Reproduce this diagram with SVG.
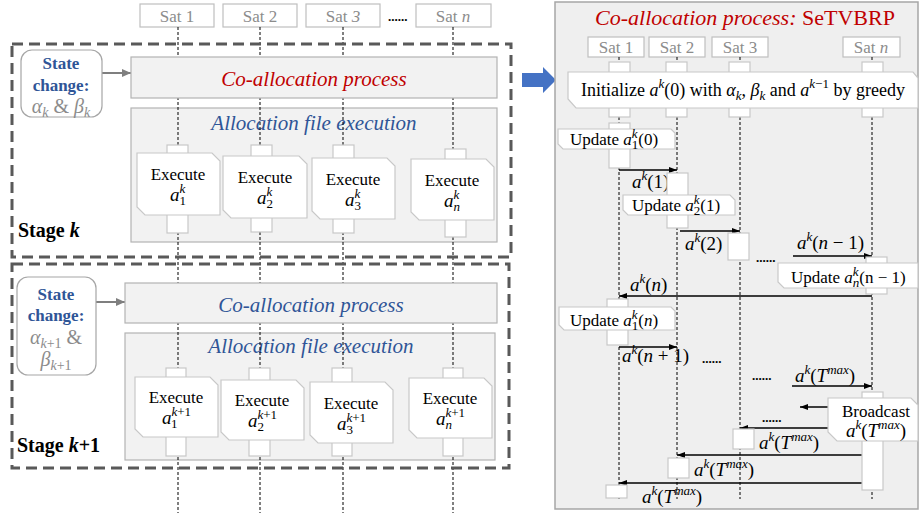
<svg xmlns="http://www.w3.org/2000/svg" width="920" height="520" viewBox="0 0 920 520" font-family="'Liberation Serif', serif">
<style>
text{font-family:"Liberation Serif","Times New Roman",serif;}
.sat{font-size:17px;fill:#8c8c8c;text-anchor:middle;}
.satb{fill:#fff;stroke:#bfbfbf;stroke-width:1.2;}
.life{stroke:#000;stroke-width:1;stroke-dasharray:3,2;fill:none;}
.stage{fill:none;stroke:#595959;stroke-width:3;stroke-dasharray:11,6;}
.proc{fill:#f2f2f2;stroke:#b3b3b3;stroke-width:1.2;}
.panel{fill:#efefef;stroke:#a6a6a6;stroke-width:1.5;}
.wb{fill:#fff;stroke:#c8c8c8;stroke-width:1.2;}
.sc{fill:#fff;stroke:#a6a6a6;stroke-width:1.2;}
.ex{font-size:17px;fill:#000;text-anchor:middle;}
.ea{font-size:19px;fill:#000;}
.it{font-style:italic;}
.red{fill:#c00000;}
.blue{fill:#2f5597;}
.gray{fill:#8c8c8c;}
.msg{stroke:#000;stroke-width:1.5;fill:none;marker-end:url(#ah);}
.garr{stroke:#7f7f7f;stroke-width:2;fill:none;marker-end:url(#gh);}
.t17{font-size:17px;fill:#000;}
.m{font-size:19px;fill:#000;}
.sp{font-size:14px;}
.s13{font-size:13px;}
.gm{font-size:20px;text-anchor:middle;}
.big{font-size:21px;text-anchor:middle;font-style:italic;}
.sc-t{font-size:17px;font-weight:bold;text-anchor:middle;}
.stg{font-size:20px;font-weight:bold;fill:#000;}
.dots{font-size:13px;font-weight:bold;fill:#000;}
</style>
<defs>
<marker id="ah" markerWidth="8" markerHeight="6" refX="8" refY="3" orient="auto" markerUnits="userSpaceOnUse"><path d="M0,0 L8,3 L0,6z" fill="#000"/></marker>
<marker id="gh" markerWidth="9" markerHeight="8" refX="9" refY="4" orient="auto" markerUnits="userSpaceOnUse"><path d="M0,0 L9,4 L0,8z" fill="#7f7f7f"/></marker>
</defs>

<!-- LEFT: headers -->
<g id="left-sat1"><rect class="satb" x="140" y="4" width="74" height="23"/><text class="sat" x="177" y="22">Sat 1</text></g>
<g id="left-sat2"><rect class="satb" x="223" y="4" width="74" height="23"/><text class="sat" x="260" y="22">Sat 2</text></g>
<g id="left-sat3"><rect class="satb" x="306" y="4" width="74" height="23"/><text class="sat" x="343" y="22">Sat <tspan class="it">3</tspan></text></g>
<text class="dots" x="388" y="21">......</text>
<g id="left-satn"><rect class="satb" x="416" y="4" width="75" height="23"/><text class="sat" x="453" y="22">Sat <tspan class="it">n</tspan></text></g>

<!-- allocation boxes (under lifelines) -->
<g id="alloc-k"><rect class="proc" x="131" y="108" width="366" height="134"/><text class="big blue" x="314" y="130">Allocation file execution</text></g>
<g id="alloc-k1"><rect class="proc" x="125" y="333" width="370" height="127"/><text class="big blue" x="311" y="353">Allocation file execution</text></g>

<!-- connectors -->
<g id="connectors">
<line class="life" x1="178" y1="27" x2="178" y2="513"/>
<line class="life" x1="260" y1="27" x2="260" y2="513"/>
<line class="life" x1="343" y1="27" x2="343" y2="513"/>
<line class="life" x1="453" y1="27" x2="453" y2="513"/>
<line class="garr" x1="102" y1="73" x2="131" y2="73"/>
<line class="garr" x1="96" y1="302" x2="125" y2="302"/>
</g>

<!-- Stage k -->
<g id="stage-k">
<rect class="stage" x="12" y="44" width="499" height="213"/>
<text class="stg" x="18" y="237">Stage <tspan class="it">k</tspan></text>
</g>
<g id="state-k">
<rect class="sc" x="21" y="50" width="81" height="67" rx="11"/>
<text class="sc-t blue" x="61" y="69">State</text>
<text class="sc-t blue" x="61" y="91">change:</text>
<text class="gray gm" x="61" y="113"><tspan class="it">α</tspan><tspan class="it sp" dy="4">k</tspan><tspan dy="-4"> &amp; </tspan><tspan class="it">β</tspan><tspan class="it sp" dy="4">k</tspan></text>
</g>
<g id="coalloc-k"><rect class="proc" x="131" y="57" width="366" height="41"/><text class="big red" x="314" y="86">Co-allocation process</text></g>

<g id="exec-k-1"><rect class="wb" x="167" y="145" width="21" height="88"/><polygon class="wb" points="137,153 212,153 220,161 220,215 145,215 137,207"/>
<text class="ex" x="178" y="180">Execute</text><text class="ea" x="170" y="201"><tspan class="it">a</tspan><tspan class="it s13" dy="-8">k</tspan><tspan class="s13" dx="-5.8" dy="12">1</tspan></text></g>
<g id="exec-k-2"><rect class="wb" x="251" y="145" width="21" height="87"/><polygon class="wb" points="223,156 299,156 307,164 307,218 231,218 223,210"/>
<text class="ex" x="265" y="183">Execute</text><text class="ea" x="257" y="204"><tspan class="it">a</tspan><tspan class="it s13" dy="-8">k</tspan><tspan class="s13" dx="-5.8" dy="12">2</tspan></text></g>
<g id="exec-k-3"><rect class="wb" x="333" y="145" width="21" height="88"/><polygon class="wb" points="312,158 387,158 395,166 395,219 320,219 312,211"/>
<text class="ex" x="353" y="185">Execute</text><text class="ea" x="345" y="206"><tspan class="it">a</tspan><tspan class="it s13" dy="-8">k</tspan><tspan class="s13" dx="-5.8" dy="12">3</tspan></text></g>
<g id="exec-k-n"><rect class="wb" x="445" y="149" width="21" height="88"/><polygon class="wb" points="411,159 486,159 494,167 494,220 419,220 411,212"/>
<text class="ex" x="452" y="186">Execute</text><text class="ea" x="444" y="207"><tspan class="it">a</tspan><tspan class="it s13" dy="-8">k</tspan><tspan class="it s13" dx="-5.8" dy="12">n</tspan></text></g>

<!-- Stage k+1 -->
<g id="stage-k1">
<rect class="stage" x="12" y="264" width="497" height="204"/>
<text class="stg" x="17" y="452">Stage <tspan class="it">k</tspan>+1</text>
</g>
<g id="state-k1">
<rect class="sc" x="17" y="277" width="79" height="98" rx="11"/>
<text class="sc-t blue" x="56" y="300">State</text>
<text class="sc-t blue" x="56" y="321">change:</text>
<text class="gray gm" x="56" y="344"><tspan class="it">α</tspan><tspan class="it sp" dy="4">k</tspan><tspan class="sp">+1</tspan><tspan dy="-4"> &amp;</tspan></text>
<text class="gray gm" x="56" y="366"><tspan class="it">β</tspan><tspan class="it sp" dy="4">k</tspan><tspan class="sp">+1</tspan></text>
</g>
<g id="coalloc-k1"><rect class="proc" x="125" y="283" width="372" height="40"/><text class="big blue" x="311" y="312">Co-allocation process</text></g>

<g id="exec-k1-1"><rect class="wb" x="166" y="368" width="20" height="88"/><polygon class="wb" points="135,377 210,377 218,385 218,437 143,437 135,429"/>
<text class="ex" x="176" y="403">Execute</text><text class="ea" x="162" y="424"><tspan class="it">a</tspan><tspan class="it s13" dy="-8">k</tspan><tspan class="s13">+1</tspan><tspan class="s13" dx="-19.6" dy="12">1</tspan></text></g>
<g id="exec-k1-2"><rect class="wb" x="249" y="368" width="21" height="88"/><polygon class="wb" points="221,380 296,380 304,388 304,440 229,440 221,432"/>
<text class="ex" x="262" y="406">Execute</text><text class="ea" x="248" y="427"><tspan class="it">a</tspan><tspan class="it s13" dy="-8">k</tspan><tspan class="s13">+1</tspan><tspan class="s13" dx="-19.6" dy="12">2</tspan></text></g>
<g id="exec-k1-3"><rect class="wb" x="332" y="368" width="20" height="88"/><polygon class="wb" points="310,382 385,382 393,390 393,443 318,443 310,435"/>
<text class="ex" x="351" y="409">Execute</text><text class="ea" x="337" y="430"><tspan class="it">a</tspan><tspan class="it s13" dy="-8">k</tspan><tspan class="s13">+1</tspan><tspan class="s13" dx="-19.6" dy="12">3</tspan></text></g>
<g id="exec-k1-n"><rect class="wb" x="443" y="368" width="20" height="88"/><polygon class="wb" points="409,378 484,378 492,386 492,438 417,438 409,430"/>
<text class="ex" x="450" y="404">Execute</text><text class="ea" x="436" y="425"><tspan class="it">a</tspan><tspan class="it s13" dy="-8">k</tspan><tspan class="s13">+1</tspan><tspan class="it s13" dx="-19.6" dy="12">n</tspan></text></g>

<!-- Blue arrow -->
<g id="to-detail"><polygon points="522,73 543,73 543,67 556,80 543,93 543,87 522,87" fill="#4472c4"/></g>

<!-- RIGHT PANEL -->
<g id="panel">
<rect class="panel" x="555" y="2" width="363" height="507"/>
<text x="745" y="25" style="font-size:22px" text-anchor="middle" class="red"><tspan class="it">Co-allocation process:</tspan> SeTVBRP</text>
</g>
<g id="r-sat1"><rect class="satb" x="588" y="37" width="56" height="20"/><text class="sat" x="616" y="53">Sat 1</text></g>
<g id="r-sat2"><rect class="satb" x="649" y="37" width="56" height="20"/><text class="sat" x="677" y="53">Sat 2</text></g>
<g id="r-sat3"><rect class="satb" x="712" y="37" width="56" height="20"/><text class="sat" x="740" y="53">Sat 3</text></g>
<g id="r-satn"><rect class="satb" x="843" y="37" width="57" height="20"/><text class="sat" x="871" y="53">Sat <tspan class="it">n</tspan></text></g>

<g id="r-lifelines">
<line class="life" x1="619" y1="57" x2="619" y2="499"/>
<line class="life" x1="677" y1="57" x2="677" y2="499"/>
<line class="life" x1="740" y1="57" x2="740" y2="499"/>
<line class="life" x1="872" y1="57" x2="872" y2="499"/>
</g>

<g id="r-init">
<rect class="wb" x="609" y="62" width="21" height="55"/>
<rect class="wb" x="666" y="62" width="21" height="55"/>
<rect class="wb" x="729" y="62" width="21" height="55"/>
<rect class="wb" x="862" y="62" width="21" height="55"/>
<polygon class="wb" points="568,72 913,72 918,78 918,108 576,108 568,99"/>
<text x="743" y="96" style="font-size:18px" text-anchor="middle">Initialize <tspan class="it">a</tspan><tspan class="it s13" dy="-8">k</tspan><tspan dy="8">(0) with </tspan><tspan class="it">α</tspan><tspan class="it s13" dy="4">k</tspan><tspan dy="-4">, </tspan><tspan class="it">β</tspan><tspan class="it s13" dy="4">k</tspan><tspan dy="-4"> and </tspan><tspan class="it">a</tspan><tspan class="it s13" dy="-8">k</tspan><tspan class="s13">−1</tspan><tspan dy="8"> by greedy</tspan></text>
</g>

<g id="r-upd1">
<rect class="wb" x="609" y="123" width="21" height="45"/>
<polygon class="wb" points="558,129 671,129 675,133 675,149 563,149 558,144"/>
<text class="t17" x="570" y="145">Update <tspan class="it">a</tspan><tspan class="it s13" dy="-7">k</tspan><tspan class="s13" dx="-5.8" dy="11">1</tspan><tspan dy="-4">(0)</tspan></text>
</g>

<g id="r-msgs">
<line class="msg" x1="619" y1="170" x2="677" y2="170"/>
<line class="msg" x1="680" y1="231" x2="740" y2="231"/>
<line class="msg" x1="793" y1="256" x2="872" y2="256"/>
<line class="msg" x1="872" y1="296" x2="619" y2="296"/>
<line class="msg" x1="619" y1="347" x2="677" y2="347"/>
<line class="msg" x1="792" y1="386" x2="872" y2="386"/>
<line class="msg" x1="830" y1="407" x2="800" y2="407"/>
<line class="msg" x1="862" y1="428" x2="740" y2="428"/>
<line class="msg" x1="862" y1="455" x2="677" y2="455"/>
<line class="msg" x1="862" y1="483" x2="619" y2="483"/>
</g>

<text class="m" x="632" y="188"><tspan class="it">a</tspan><tspan class="it s13" dy="-8">k</tspan><tspan dy="8">(1)</tspan></text>

<g id="r-upd2">
<rect class="wb" x="667" y="173" width="21" height="55"/>
<polygon class="wb" points="623,195 730,195 735,200 735,215 628,215 623,210"/>
<text class="t17" x="632" y="211">Update <tspan class="it">a</tspan><tspan class="it s13" dy="-7">k</tspan><tspan class="s13" dx="-5.8" dy="11">2</tspan><tspan dy="-4">(1)</tspan></text>
</g>

<text class="m" x="685" y="250"><tspan class="it">a</tspan><tspan class="it s13" dy="-8">k</tspan><tspan dy="8">(2)</tspan></text>
<rect class="wb" x="728" y="233" width="21" height="27"/>
<text class="dots" x="756" y="262">......</text>
<text class="m" x="797" y="249"><tspan class="it">a</tspan><tspan class="it s13" dy="-8">k</tspan><tspan dy="8">(</tspan><tspan class="it">n</tspan> − 1)</text>

<g id="r-updn">
<rect class="wb" x="866" y="257" width="21" height="37"/>
<polygon class="wb" points="778,263 918,263 918,288 784,288 778,282"/>
<text class="t17" x="791" y="283">Update <tspan class="it">a</tspan><tspan class="it s13" dy="-7">k</tspan><tspan class="it s13" dx="-5.8" dy="11">n</tspan><tspan dy="-4">(n − 1)</tspan></text>
</g>

<text class="m" x="630" y="291"><tspan class="it">a</tspan><tspan class="it s13" dy="-8">k</tspan><tspan dy="8">(</tspan><tspan class="it">n</tspan>)</text>

<g id="r-upd1n">
<rect class="wb" x="607" y="299" width="21" height="46"/>
<polygon class="wb" points="559,307 671,307 675,311 675,330 564,330 559,325"/>
<text class="t17" x="570" y="326">Update <tspan class="it">a</tspan><tspan class="it s13" dy="-7">k</tspan><tspan class="s13" dx="-5.8" dy="11">1</tspan><tspan dy="-4">(</tspan><tspan class="it">n</tspan>)</text>
</g>

<text class="m" x="622" y="362"><tspan class="it">a</tspan><tspan class="it s13" dy="-8">k</tspan><tspan dy="8">(</tspan><tspan class="it">n</tspan> + 1)</text>
<text class="dots" x="702" y="363">......</text>
<text class="dots" x="752" y="380">......</text>
<text class="m" x="795" y="382"><tspan class="it">a</tspan><tspan class="it s13" dy="-8">k</tspan><tspan dy="8">(</tspan><tspan class="it">T</tspan><tspan class="it s13" dy="-8">max</tspan><tspan dy="8">)</tspan></text>

<g id="r-broadcast">
<rect class="wb" x="862" y="392" width="21" height="98"/>
<polygon class="wb" points="828,398 911,398 918,405 918,441 837,441 828,432"/>
<text class="t17" x="876" y="417" text-anchor="middle">Broadcast</text>
<text class="m" x="876" y="437" text-anchor="middle"><tspan class="it">a</tspan><tspan class="it s13" dy="-8">k</tspan><tspan dy="8">(</tspan><tspan class="it">T</tspan><tspan class="it s13" dy="-8">max</tspan><tspan dy="8">)</tspan></text>
</g>

<text class="dots" x="762" y="422">......</text>
<rect class="wb" x="733" y="429" width="21" height="20"/>
<text class="m" x="759" y="449"><tspan class="it">a</tspan><tspan class="it s13" dy="-8">k</tspan><tspan dy="8">(</tspan><tspan class="it">T</tspan><tspan class="it s13" dy="-8">max</tspan><tspan dy="8">)</tspan></text>
<rect class="wb" x="668" y="458" width="21" height="20"/>
<text class="m" x="694" y="476"><tspan class="it">a</tspan><tspan class="it s13" dy="-8">k</tspan><tspan dy="8">(</tspan><tspan class="it">T</tspan><tspan class="it s13" dy="-8">max</tspan><tspan dy="8">)</tspan></text>
<rect class="wb" x="606" y="485" width="21" height="13"/>
<text class="m" x="642" y="503"><tspan class="it">a</tspan><tspan class="it s13" dy="-8">k</tspan><tspan dy="8">(</tspan><tspan class="it">T</tspan><tspan class="it s13" dy="-8">max</tspan><tspan dy="8">)</tspan></text>
</svg>
